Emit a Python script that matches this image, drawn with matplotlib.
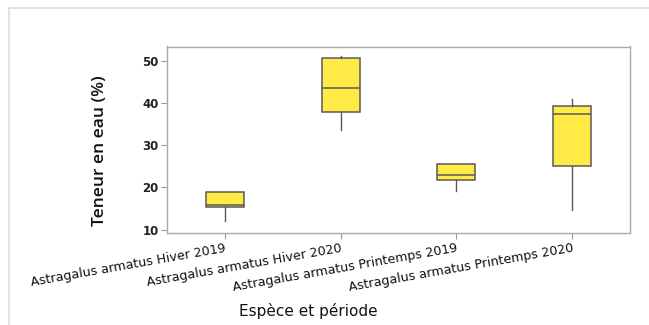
import matplotlib
matplotlib.use("Agg")
import matplotlib.pyplot as plt
from matplotlib.lines import Line2D

categories = ["Astragalus armatus Hiver 2019", "Astragalus armatus Hiver 2020",
              "Astragalus armatus Printemps 2019", "Astragalus armatus Printemps 2020"]
whisker_low = [12.1, 33.5, 19.1, 14.6]
q1 = [15.4, 37.85, 21.7, 25.1]
median = [15.8, 43.6, 22.9, 37.4]
q3 = [18.8, 50.6, 25.5, 39.2]
whisker_high = [19.0, 51.1, 25.5, 40.9]
yticks = [10, 20, 30, 40, 50]

plt.rcParams['font.family'] = ['DejaVu Sans']

fig = plt.figure(figsize=(6.49, 3.25), dpi=100)
ax = fig.add_axes([167/649, 1-233/325, (630-167)/649, (233-46.5)/325])

stats = []
for i, c in enumerate(categories):
    stats.append(dict(label=c, whislo=whisker_low[i], q1=q1[i], med=median[i],
                      q3=q3[i], whishi=whisker_high[i], fliers=[]))

edge = "#5a5a5a"
ax.bxp(stats, positions=[1, 2, 3, 4], widths=0.33, patch_artist=True, showcaps=False,
       boxprops=dict(facecolor="#FFEA46", edgecolor=edge, linewidth=1.1),
       medianprops=dict(color=edge, linewidth=1.1),
       whiskerprops=dict(color=edge, linewidth=1.0))

ax.set_xlim(0.5, 4.5)
ax.set_ylim(9.2, 53.4)
ax.set_yticks(yticks)
ax.set_yticklabels([str(v) for v in yticks], fontsize=8.5, fontweight='bold', color="#222222")
ax.set_xticks([1, 2, 3, 4])
ax.set_xticklabels(categories, rotation=10, ha='right', rotation_mode='anchor',
                   fontsize=9.1, color="#111111")
for s in ax.spines.values():
    s.set_color("#aaaaaa")
    s.set_linewidth(1.0)
ax.tick_params(axis='both', color="#999999", length=4, width=0.8)
ax.tick_params(axis='y', pad=2)
ax.tick_params(axis='x', pad=2.5)

fig.text(100/649, 1-151/325, "Teneur en eau (%)", rotation=90, ha='center', va='center',
         fontsize=12.5, fontweight='semibold', color="#111111", family=['Open Sans', 'DejaVu Sans'])
fig.text(308.5/649, 1-311/325, "Espèce et période", ha='center', va='center',
         fontsize=11, color="#111111")

fig.add_artist(Line2D([9/649, 1.0], [1-8/325, 1-8/325], transform=fig.transFigure,
                      color="#dddddd", linewidth=1.2))
fig.add_artist(Line2D([9/649, 9/649], [0, 1-8/325], transform=fig.transFigure,
                      color="#dddddd", linewidth=1.2))

fig.savefig("out.png", dpi=100)
